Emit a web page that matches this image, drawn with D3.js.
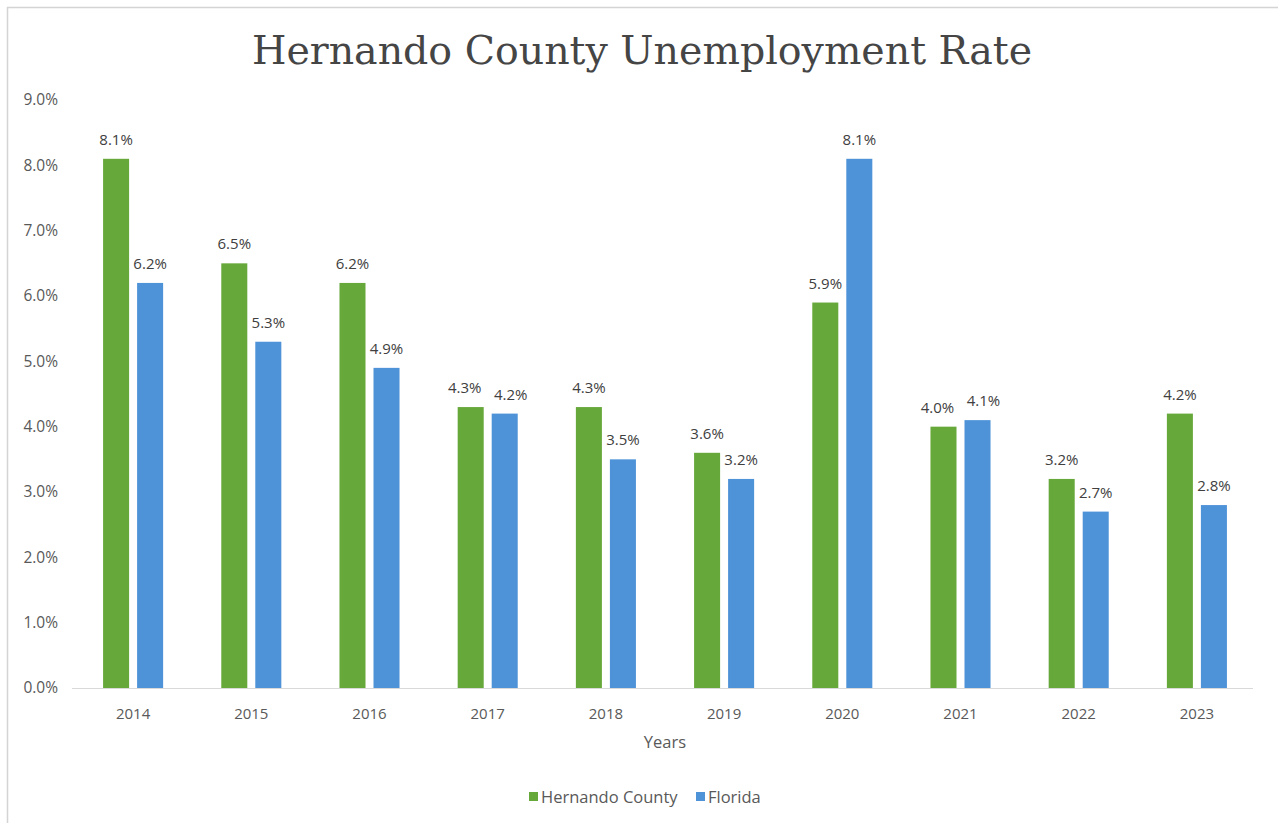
<!DOCTYPE html>
<html>
<head>
<meta charset="utf-8">
<script src="https://cdn.jsdelivr.net/npm/d3@7"></script>
<style>
  html, body { margin: 0; padding: 0; background: #fff; }
  svg { display: block; }
</style>
</head>
<body>
<svg id="chart" width="1278" height="823"></svg>
<script>
// Unemployment rate by year, in percent
const years = ["2014", "2015", "2016", "2017", "2018", "2019", "2020", "2021", "2022", "2023"];
const hernando = [8.1, 6.5, 6.2, 4.3, 4.3, 3.6, 5.9, 4.0, 3.2, 4.2];
const florida = [6.2, 5.3, 4.9, 4.2, 3.5, 3.2, 8.1, 4.1, 2.7, 2.8];
const seriesNames = ["Hernando County", "Florida"];
const yTicks = [0, 1, 2, 3, 4, 5, 6, 7, 8, 9];

const colors = { "Hernando County": "#67a83b", "Florida": "#4e92d8" };
const textFont = "'Open Sans', 'Noto Sans', sans-serif";

const svg = d3.select("#chart");
const W = 1278, H = 823;
const margin = { top: 100, right: 22, bottom: 135, left: 74 };

// frame edges
svg.append("line").attr("x1", 7).attr("x2", W).attr("y1", 7.5).attr("y2", 7.5)
  .attr("stroke", "#d4d4d4").attr("stroke-width", 1.5);
svg.append("line").attr("x1", 7.5).attr("x2", 7.5).attr("y1", 7).attr("y2", H)
  .attr("stroke", "#d4d4d4").attr("stroke-width", 1.5);

const x0 = d3.scaleBand().domain(years)
  .range([margin.left, W - margin.right])
  .paddingInner(0.492).paddingOuter(0.246);
const x1 = d3.scaleBand().domain(seriesNames)
  .range([0, x0.bandwidth()])
  .paddingInner(0.235);
const y = d3.scaleLinear().domain([0, 9]).range([H - margin.bottom, margin.top]);

// title
svg.append("text")
  .attr("x", 642).attr("y", 64)
  .attr("text-anchor", "middle")
  .attr("font-family", "'DejaVu Serif', serif")
  .attr("font-size", 39.5)
  .attr("fill", "#454545")
  .text("Hernando County Unemployment Rate");

// y axis labels
const yAxis = d3.axisLeft(y).tickValues(yTicks)
  .tickFormat(d => d.toFixed(1) + "%").tickSize(0).tickPadding(0);
const yG = svg.append("g").attr("transform", `translate(58,0)`).call(yAxis);
yG.select(".domain").remove();
yG.selectAll("text").attr("font-family", textFont).attr("font-size", 15.5)
  .attr("fill", "#595959");

// baseline
svg.append("line")
  .attr("x1", margin.left - 2).attr("x2", W - margin.right - 3)
  .attr("y1", y(0) + 0.5).attr("y2", y(0) + 0.5)
  .attr("stroke", "#d9d9d9").attr("stroke-width", 1);

// bars
const rows = years.map((yr, i) => ({
  year: yr,
  values: [
    { key: "Hernando County", value: hernando[i] },
    { key: "Florida", value: florida[i] }
  ]
}));

const groups = svg.append("g").selectAll("g").data(rows).join("g")
  .attr("transform", d => `translate(${x0(d.year)},0)`);

groups.selectAll("rect").data(d => d.values).join("rect")
  .attr("x", d => x1(d.key))
  .attr("width", x1.bandwidth())
  .attr("y", d => y(d.value))
  .attr("height", d => y(0) - y(d.value))
  .attr("fill", d => colors[d.key]);

// value labels; when the pair sits at nearly the same height, spread them apart
groups.each(function (row) {
  const g = d3.select(this);
  const close = Math.abs(y(row.values[0].value) - y(row.values[1].value)) < 18;
  g.selectAll("text.lbl").data(row.values).join("text")
    .attr("class", "lbl")
    .attr("x", (d, i) => x1(d.key) + x1.bandwidth() / 2 + (close ? (i === 0 ? -6 : 6) : 0))
    .attr("y", d => y(d.value) - 14)
    .attr("text-anchor", "middle")
    .attr("font-family", textFont).attr("font-size", 15)
    .attr("fill", "#404040")
    .text(d => d.value.toFixed(1) + "%");
});

// x axis labels
const xAxis = d3.axisBottom(x0).tickSize(0).tickPadding(0);
const xG = svg.append("g").attr("transform", `translate(0,${y(0) + 31})`).call(xAxis);
xG.select(".domain").remove();
xG.selectAll("text").attr("font-family", textFont).attr("font-size", 15)
  .attr("fill", "#595959").attr("dy", 0);

// axis title
svg.append("text")
  .attr("x", 665).attr("y", 748)
  .attr("text-anchor", "middle")
  .attr("font-family", textFont).attr("font-size", 16.5)
  .attr("fill", "#595959")
  .text("Years");

// legend
const legendItems = [
  { key: "Hernando County", x: 529 },
  { key: "Florida", x: 696 }
];
const lg = svg.append("g").selectAll("g").data(legendItems).join("g")
  .attr("transform", d => `translate(${d.x},797)`);
lg.append("rect").attr("x", 0).attr("y", -5).attr("width", 9).attr("height", 9)
  .attr("fill", d => colors[d.key]);
lg.append("text").attr("x", 12).attr("y", 6)
  .attr("font-family", textFont).attr("font-size", 16.5)
  .attr("fill", "#595959")
  .text(d => d.key);
</script>
</body>
</html>
